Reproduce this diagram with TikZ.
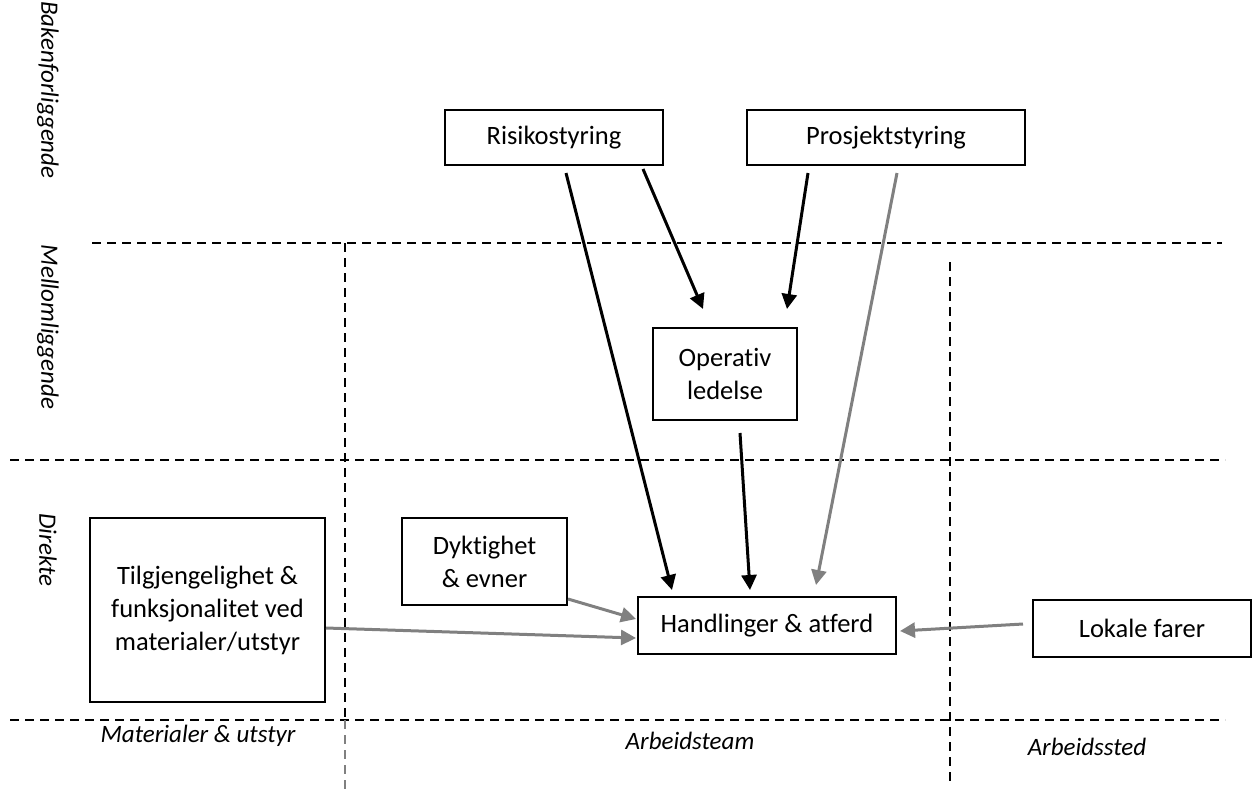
\documentclass[tikz,border=0pt]{standalone}
\usepackage{fontspec}
\setmainfont{Carlito}[Ligatures=NoCommon]
\usetikzlibrary{arrows.meta}

\begin{document}
\begin{tikzpicture}[x=1pt, y=-1pt,
	box/.style={shape=rectangle, draw, line width=2pt, align=center, inner sep=0pt, font=\fontsize{26.5}{33}\selectfont},
	side/.style={font=\fontsize{25}{30}\selectfont\itshape},
	sep/.style={line width=1.6pt, dash pattern=on 9pt off 6pt},
	arr/.style={line width=3pt, -{Triangle[length=15pt,width=15pt]}},
	grey/.style={arr, draw=gray, -{Triangle[length=15pt,width=15pt,fill=gray]}}]
			\useasboundingbox (0,0) rectangle (1253,793);

			% levels and columns
			\draw[sep] (92,243) -- (1222,243);
			\draw[sep] (10,460) -- (1225,460);
			\draw[sep] (10,720) -- (1225,720);
			\draw[sep] (345,243) -- (345,720);
			\draw[sep, gray] (345,720) -- (345,793);
			\draw[sep] (950,262) -- (950,785);

			\node[side, rotate=-90] (bak) at (48,90){Bakenforliggende};
			\node[side, rotate=-90] (mel) at (48,327){Mellomliggende};
			\node[side, rotate=-90] (dir) at (48,550){Direkte};
			\node[side] (mat) at (198,736){Materialer \& utstyr};
			\node[side] (team) at (690,741){Arbeidsteam};
			\node[side] (sted) at (1087,747){Arbeidssted};

			\node[box, minimum width=218, minimum height=55] (risk) at (554,137.5){Risikostyring};
			\node[box, minimum width=278, minimum height=55] (pros) at (886,137.5){Prosjektstyring};
			\node[box, minimum width=144, minimum height=92] (oper) at (725,374){Operativ\\ledelse};
			\node[box, minimum width=235, minimum height=184] (tilg) at (207.5,610){Tilgjengelighet \&\\funksjonalitet ved\\materialer/utstyr};
			\node[box, minimum width=165, minimum height=87] (dykt) at (484.5,561.5){Dyktighet\\\& evner};
			\node[box, minimum width=258, minimum height=57] (hand) at (767,625.5){Handlinger \& atferd};
			\node[box, minimum width=218, minimum height=57] (lok) at (1142,628.5){Lokale farer};

			\draw[arr] ([xshift=12pt,yshift=-7pt]risk.south) to ([xshift=-95pt,yshift=6pt]hand.north);
			\draw[arr] ([xshift=89pt,yshift=-3pt]risk.south) to ([xshift=-22pt,yshift=18pt]oper.north);
			\draw[arr] ([xshift=-78pt,yshift=-7pt]pros.south) to ([xshift=62pt,yshift=18pt]oper.north);
			\draw[grey] ([xshift=11pt,yshift=-7pt]pros.south) to ([xshift=49pt,yshift=11pt]hand.north);
			\draw[arr] ([xshift=15pt,yshift=-12pt]oper.south) to ([xshift=-17pt,yshift=6pt]hand.north);
			\draw[grey] ([yshift=7pt]dykt.south east) to ([xshift=-1pt,yshift=6.5pt]hand.west);
			\draw[grey] ([yshift=-18pt]tilg.east) to ([xshift=-1pt,yshift=-12.5pt]hand.west);
			\draw[grey] ([xshift=-9pt,yshift=4.5pt]lok.west) to ([xshift=3pt,yshift=-5.5pt]hand.east);
\end{tikzpicture}
\end{document}
